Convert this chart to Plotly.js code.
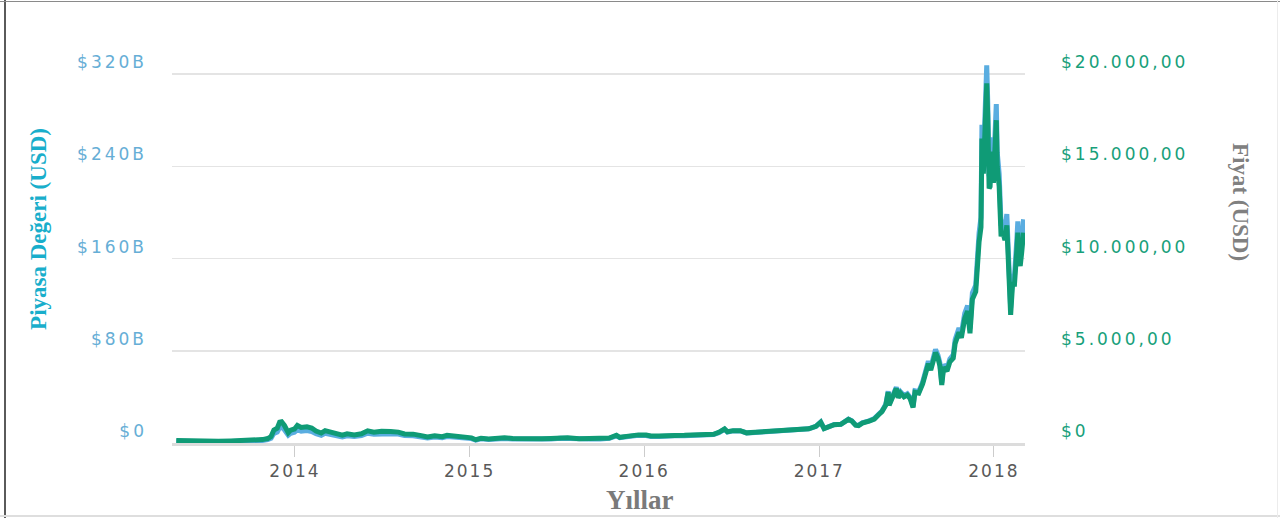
<!DOCTYPE html>
<html>
<head>
<meta charset="utf-8">
<script src="https://cdn.plot.ly/plotly-3.0.1.min.js"></script>
<style>
  html, body { margin:0; padding:0; background:#fff; }
  #wrap { position:relative; width:1280px; height:518px; overflow:hidden; }
  #chart { position:absolute; left:0; top:0; width:1280px; height:518px; }
  .frame { position:absolute; pointer-events:none; }
  .xtick text { letter-spacing: 2px; }
  .ytick text, .y2tick text { letter-spacing: 3px; }
</style>
</head>
<body>
<div id="wrap">
  <div id="chart"></div>
  <div class="frame" style="left:4px;top:0;width:2px;height:518px;background:#5a5a5a;"></div>
  <div class="frame" style="left:0;top:1px;width:1280px;height:1px;background:#8a8a8a;"></div>
  <div class="frame" style="left:0;top:515px;width:1280px;height:2px;background:#dedede;"></div>
  <div class="frame" style="left:1277px;top:0;width:1px;height:518px;background:#ececec;"></div>
</div>
<script>
// Dates of the observations
const dates = [
 "2013-04-28","2013-05-15","2013-06-15","2013-07-05","2013-07-25","2013-08-20","2013-09-20","2013-10-10","2013-10-25","2013-11-05",
 "2013-11-12","2013-11-18","2013-11-25","2013-11-30","2013-12-04","2013-12-10","2013-12-18","2013-12-23","2013-12-31","2014-01-06",
 "2014-01-14","2014-01-26","2014-02-05","2014-02-14","2014-02-25","2014-03-05","2014-03-20","2014-04-10","2014-04-20","2014-05-05",
 "2014-05-20","2014-06-02","2014-06-15","2014-07-01","2014-07-20","2014-08-05","2014-08-18","2014-09-05","2014-09-22","2014-10-05",
 "2014-10-20","2014-11-05","2014-11-15","2014-12-01","2014-12-20","2015-01-05","2015-01-14","2015-01-25","2015-02-10","2015-03-01",
 "2015-03-15","2015-04-01","2015-04-20","2015-05-10","2015-06-01","2015-06-20","2015-07-10","2015-07-25","2015-08-18","2015-09-10",
 "2015-10-01","2015-10-20","2015-11-04","2015-11-11","2015-11-25","2015-12-10","2015-12-20","2016-01-05","2016-01-15","2016-02-01",
 "2016-02-20","2016-03-05","2016-03-25","2016-04-15","2016-05-05","2016-05-25","2016-06-05","2016-06-17","2016-06-23","2016-07-05",
 "2016-07-20","2016-08-02","2016-08-20","2016-09-10","2016-09-30","2016-10-15","2016-10-28","2016-11-10","2016-11-25","2016-12-10",
 "2016-12-25","2017-01-04","2017-01-11","2017-01-20","2017-02-01","2017-02-15","2017-02-24","2017-03-03","2017-03-10","2017-03-18",
 "2017-03-24","2017-04-01","2017-04-15","2017-04-26","2017-05-05","2017-05-12","2017-05-20","2017-05-25","2017-05-27","2017-06-02",
 "2017-06-11","2017-06-15","2017-06-20","2017-06-27","2017-07-04","2017-07-10","2017-07-16","2017-07-20","2017-07-28","2017-08-05",
 "2017-08-12","2017-08-17","2017-08-22","2017-09-01","2017-09-06","2017-09-10","2017-09-14","2017-09-18","2017-09-25","2017-10-01",
 "2017-10-08","2017-10-12","2017-10-20","2017-10-25","2017-11-01","2017-11-07","2017-11-12","2017-11-17","2017-11-24","2017-11-28",
 "2017-12-01","2017-12-05","2017-12-07","2017-12-10","2017-12-13","2017-12-17","2017-12-19","2017-12-22","2017-12-24","2017-12-27",
 "2017-12-29","2017-12-31","2018-01-06","2018-01-08","2018-01-12","2018-01-16","2018-01-19","2018-01-24","2018-01-28","2018-02-01",
 "2018-02-05","2018-02-09","2018-02-13","2018-02-18","2018-02-20","2018-02-22","2018-02-25","2018-02-28","2018-03-02","2018-03-04"
];

// Piyasa Değeri (market cap), billions USD
const marketCapB = [
 1.50,1.29,1.13,0.80,1.09,1.33,1.46,1.48,2.19,2.86,
 4.18,8.4,9.6,13.6,13.9,11.5,6.8,8.5,9.3,11.6,
 10.3,10.8,10.0,8.1,6.7,8.4,7.3,5.3,6.3,5.6,
 6.4,8.5,7.6,8.3,8.1,7.7,6.4,6.3,5.3,4.4,
 5.2,4.6,5.6,5.1,4.4,3.8,2.5,3.6,3.0,3.6,
 4.0,3.4,3.2,3.4,3.2,3.5,4.1,4.2,3.3,3.5,
 3.5,4.0,6.2,4.6,5.4,6.3,6.6,6.5,5.7,5.7,
 6.5,6.3,6.3,6.6,7.0,7.3,9.0,11.9,9.5,10.5,
 10.5,8.7,9.2,9.7,9.7,10.2,11.2,11.4,11.8,12.3,
 14.5,18.2,12.6,14.5,16.0,16.3,19.1,20.7,19.3,15.7,
 15.3,17.6,19.2,21.2,25.0,27.8,33.5,45.0,33.6,40.6,
 48.4,40.2,44.3,41.1,42.7,39.5,31.8,45.3,44.5,52.8,
 64.4,71.0,65.3,81.1,76.2,69.6,52.2,68.0,64.7,73.0,
 76.5,89.7,99.8,94.9,112.5,119.2,99.2,130.2,136.9,165.4,
 182.2,195.7,276.0,244.4,274.7,327.5,298.3,231.4,233.1,265.1,
 245.0,236.6,294.0,252.0,233.5,188.3,193.3,185.0,198.5,154.8,
 117.0,144.8,144.9,177.0,192.3,167.0,162.0,174.0,186.0,194.0
];

// Fiyat (price), USD
const priceUSD = [
 135,115,100,70,95,115,125,125,185,240,
 350,700,800,1130,1150,950,560,700,760,950,
 840,880,810,650,540,670,580,420,500,440,
 500,660,590,640,620,590,490,480,400,330,
 390,340,420,380,320,280,180,260,220,260,
 285,245,225,240,225,245,285,290,225,240,
 238,270,420,310,360,420,440,430,380,375,
 430,410,415,430,450,470,580,760,610,670,
 670,550,580,610,610,640,700,715,740,770,
 900,1130,780,900,990,1010,1180,1280,1190,970,
 940,1080,1180,1300,1530,1700,2050,2750,2050,2480,
 2950,2450,2700,2500,2600,2400,1930,2750,2700,3200,
 3900,4300,3950,4900,4600,4200,3150,4100,3900,4400,
 4600,5400,6000,5700,6750,7150,5950,7800,8200,9900,
 10900,11700,16500,14600,16400,19500,17800,13800,13900,15800,
 14600,14100,17500,15000,13900,11200,11500,11000,11800,9200,
 6950,8600,8600,10500,11400,9900,9600,10300,11000,11400
];

// Axis tick labels
const capTickVals = [0, 80, 160, 240, 320];
const capTickText = ["$0", "$80B", "$160B", "$240B", "$320B"];
const priceTickVals = [0, 5000, 10000, 15000, 20000];
const priceTickText = ["$0", "$5.000,00", "$10.000,00", "$15.000,00", "$20.000,00"];
const yearTickVals = ["2014-01-01", "2015-01-01", "2016-01-01", "2017-01-01", "2018-01-01"];
const yearTickText = ["2014", "2015", "2016", "2017", "2018"];

const traces = [
  {
    x: dates, y: marketCapB, type: "scatter", mode: "lines", yaxis: "y",
    name: "Piyasa Değeri", line: { color: "#5aade0", width: 5 }, hoverinfo: "skip"
  },
  {
    x: dates, y: priceUSD, type: "scatter", mode: "lines", yaxis: "y2",
    name: "Fiyat", line: { color: "#0f9b76", width: 5 }, hoverinfo: "skip"
  }
];

const layout = {
  width: 1280, height: 518,
  paper_bgcolor: "rgba(0,0,0,0)", plot_bgcolor: "rgba(0,0,0,0)",
  showlegend: false,
  margin: { l: 172, r: 255, t: 51, b: 75, pad: 0 },
  xaxis: {
    type: "date", range: ["2013-04-19", "2018-03-07"],
    tickvals: yearTickVals, ticktext: yearTickText,
    showgrid: false, zeroline: false,
    showline: true, linecolor: "#dcdcdc", linewidth: 3,
    ticks: "outside", ticklen: 11, tickwidth: 1, tickcolor: "#cccccc",
    tickfont: { family: "DejaVu Sans", size: 17, color: "#595959" },
    fixedrange: true
  },
  yaxis: {
    range: [0, 340], tickvals: capTickVals, ticktext: capTickText,
    showgrid: true, gridcolor: "#e4e4e4", gridwidth: 1.5,
    zeroline: false, showline: false, ticks: "",
    ticklabelposition: "outside top", ticklabelstandoff: 24,
    tickfont: { family: "DejaVu Sans", size: 17, color: "#66aed6" },
    fixedrange: true
  },
  yaxis2: {
    overlaying: "y", side: "right",
    range: [0, 21250], tickvals: priceTickVals, ticktext: priceTickText,
    showgrid: false, zeroline: false, showline: false, ticks: "",
    ticklabelposition: "outside top", ticklabelstandoff: 35,
    tickfont: { family: "DejaVu Sans", size: 17, color: "#17a07a" },
    fixedrange: true
  },
  annotations: [
    {
      text: "<b>Piyasa Değeri (USD)</b>", xref: "paper", yref: "paper",
      x: -0.156, y: 0.546, textangle: -90, showarrow: false,
      xanchor: "center", yanchor: "middle",
      font: { family: "Liberation Serif", size: 23, color: "#19aecb" }
    },
    {
      text: "<b>Fiyat (USD)</b>", xref: "paper", yref: "paper",
      x: 1.252, y: 0.615, textangle: 90, showarrow: false,
      xanchor: "center", yanchor: "middle",
      font: { family: "Liberation Serif", size: 23, color: "#808080" }
    },
    {
      text: "<b>Yıllar</b>", xref: "paper", yref: "paper",
      x: 0.549, y: -0.145, showarrow: false,
      xanchor: "center", yanchor: "middle",
      font: { family: "Liberation Serif", size: 27, color: "#7a7a7a" }
    }
  ]
};

Plotly.newPlot("chart", traces, layout, { staticPlot: true, displayModeBar: false });
</script>
</body>
</html>
